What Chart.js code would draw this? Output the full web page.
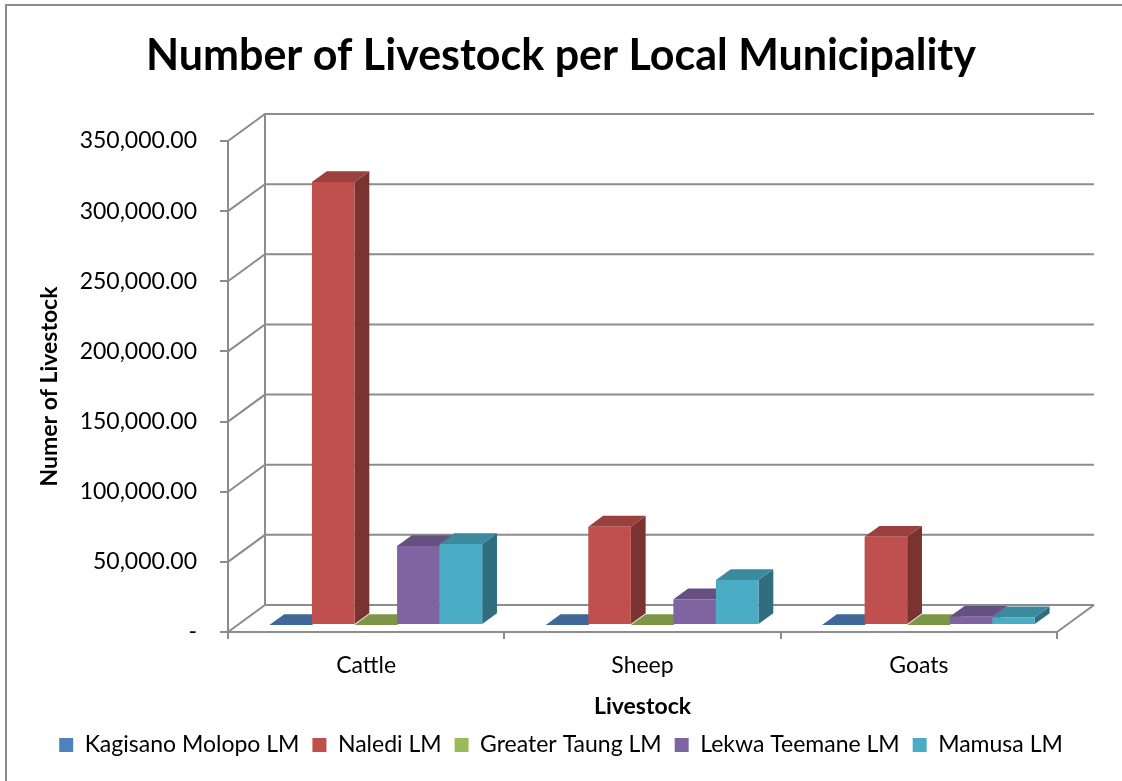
<!DOCTYPE html>
<html>
<head>
<meta charset="utf-8">
<script src="https://cdn.jsdelivr.net/npm/chart.js@4.4.0/dist/chart.umd.min.js"></script>
<style>
  html, body { margin: 0; padding: 0; background: #fff; }
  #wrap { width: 1122px; height: 781px; }
</style>
</head>
<body>
<div id="wrap"><canvas id="stock" width="1122" height="781"></canvas></div>
<script>
// livestock counts per local municipality
var animals = ['Cattle', 'Sheep', 'Goats'];
var municipalities = ['Kagisano Molopo LM', 'Naledi LM', 'Greater Taung LM', 'Lekwa Teemane LM', 'Mamusa LM'];
var kagisano = [0, 0, 0];
var naledi = [315800, 70100, 62900];
var greaterTaung = [0, 0, 0];
var lekwa = [56300, 18300, 5900];
var mamusa = [57700, 32100, 5500];
var yTicksMax = 350000, yStep = 50000;

var fills = ['#4F81BD', '#C0504D', '#9BBB59', '#8064A2', '#4BACC6'];
var GRID = '#8c8c8c';
var FONT = 'Lato, "Open Sans", sans-serif';

// depth of the box (wall) and where bars sit inside it
var DX = 37, DY = -27, FRONT = 0.26, DEPTH = 0.4;

function shade(hex, k) {
  var n = parseInt(hex.slice(1), 16);
  var r = Math.round(((n >> 16) & 255) * k), g = Math.round(((n >> 8) & 255) * k), b = Math.round((n & 255) * k);
  return 'rgb(' + r + ',' + g + ',' + b + ')';
}

var box3d = {
  id: 'box3d',
  beforeDatasetsDraw: function(chart) {
    var ctx = chart.ctx, a = chart.chartArea, y = chart.scales.y;
    // side wall diagonals + back wall gridlines
    ctx.save();
    ctx.strokeStyle = GRID;
    ctx.lineWidth = 2;
    ctx.beginPath();
    y.ticks.forEach(function(t) {
      var py = y.getPixelForValue(t.value);
      ctx.moveTo(a.left, py);
      ctx.lineTo(a.left + DX, py + DY);
      ctx.lineTo(a.right + DX, py + DY);
    });
    ctx.moveTo(a.left + DX, y.getPixelForValue(yTicksMax) + DY);
    ctx.lineTo(a.left + DX, a.bottom + DY);
    ctx.moveTo(a.right, a.bottom);
    ctx.lineTo(a.right + DX, a.bottom + DY);
    ctx.stroke();
    ctx.restore();

    // side and top faces, left to right so nearer ones cover
    ctx.save();
    ctx.translate(DX * FRONT, DY * FRONT);
    var bx = DX * DEPTH, by = DY * DEPTH;
    var nd = chart.data.datasets.length;
    for (var i = 0; i < chart.data.labels.length; i++) {
      for (var d = 0; d < nd; d++) {
        var el = chart.getDatasetMeta(d).data[i];
        var l = el.x - el.width / 2, r = el.x + el.width / 2, t = el.y, b = el.base;
        ctx.fillStyle = shade(fills[d], 0.64);
        ctx.beginPath();
        ctx.moveTo(r, t); ctx.lineTo(r + bx, t + by); ctx.lineTo(r + bx, b + by); ctx.lineTo(r, b);
        ctx.closePath(); ctx.fill();
        ctx.fillStyle = shade(fills[d], 0.8);
        ctx.beginPath();
        ctx.moveTo(l, t); ctx.lineTo(r, t); ctx.lineTo(r + bx, t + by); ctx.lineTo(l + bx, t + by);
        ctx.closePath(); ctx.fill();
      }
    }
    ctx.restore();
    // front faces drawn by chart.js with the same shift
    ctx.save();
    ctx.translate(DX * FRONT, DY * FRONT);
  },
  afterDatasetsDraw: function(chart) {
    chart.ctx.restore();
  },
  afterDraw: function(chart) {
    var ctx = chart.ctx;
    ctx.save();
    ctx.strokeStyle = GRID;
    ctx.lineWidth = 2;
    ctx.beginPath();
    ctx.moveTo(6, 781); ctx.lineTo(6, 5); ctx.lineTo(1122, 5);
    ctx.stroke();
    ctx.restore();
  }
};

var series = [kagisano, naledi, greaterTaung, lekwa, mamusa];

new Chart(document.getElementById('stock'), {
  type: 'bar',
  data: {
    labels: animals,
    datasets: series.map(function(vals, i) {
      return { label: municipalities[i], data: vals, backgroundColor: fills[i], borderWidth: 0,
               categoryPercentage: 0.77, barPercentage: 1.0 };
    })
  },
  plugins: [box3d],
  options: {
    responsive: false,
    animation: false,
    layout: { padding: { left: 0, right: 0, top: 0, bottom: 14.5 } },
    plugins: {
      title: {
        display: true,
        text: 'Number of Livestock per Local Municipality',
        color: '#000',
        font: { family: FONT, size: 43, weight: 'bold' },
        padding: { top: 30, bottom: 59.4 }
      },
      legend: {
        position: 'bottom',
        labels: { color: '#000', font: { family: FONT, size: 23 }, boxWidth: 14, boxHeight: 14, padding: 13 }
      },
      tooltip: { enabled: false }
    },
    scales: {
      x: {
        grid: { drawOnChartArea: false, tickLength: 7, color: GRID, lineWidth: 2 },
        border: { color: GRID, width: 2 },
        ticks: { color: '#000', font: { family: FONT, size: 23 }, padding: 13 },
        title: { display: true, text: 'Livestock', color: '#000', font: { family: FONT, size: 23, weight: 'bold' }, padding: { top: 0, bottom: 0 } },
        afterFit: function(s) { s.height = 88.5; }
      },
      y: {
        min: 0, max: yTicksMax,
        grid: { drawOnChartArea: false, tickLength: 8, color: GRID, lineWidth: 2 },
        border: { color: GRID, width: 2 },
        ticks: {
          stepSize: yStep, color: '#000', font: { family: FONT, size: 23 }, padding: 23,
          callback: function(v) { return v === 0 ? '-' : v.toLocaleString('en-US', { minimumFractionDigits: 2, maximumFractionDigits: 2 }); }
        },
        title: { display: true, text: 'Numer of Livestock', color: '#000', font: { family: FONT, size: 23, weight: 'bold' }, padding: { top: 36, bottom: 0 } },
        afterFit: function(s) { s.width = 228; }
      },
      pad: {
        position: 'right',
        display: true,
        grid: { display: false },
        border: { display: false },
        ticks: { display: false },
        afterFit: function(s) { s.width = 65; }
      }
    }
  }
});
</script>
</body>
</html>
